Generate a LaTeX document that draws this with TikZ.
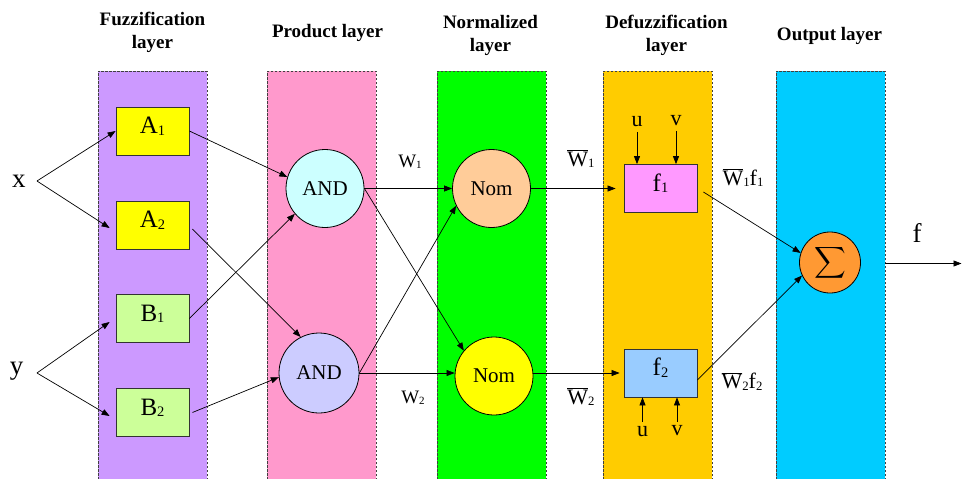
\documentclass[tikz,border=0pt]{standalone}
\usepackage{fontspec}
\setmainfont{Liberation Serif}
\usepackage{graphicx}
\usetikzlibrary{arrows.meta}
\definecolor{fuzz}{HTML}{CC99FF}
\definecolor{prod}{HTML}{FF99CC}
\definecolor{norm}{HTML}{00FF00}
\definecolor{defz}{HTML}{FFCC00}
\definecolor{outc}{HTML}{00CCFF}
\definecolor{yel}{HTML}{FFFF00}
\definecolor{lgreen}{HTML}{CCFF99}
\definecolor{andA}{HTML}{CCFFFF}
\definecolor{andB}{HTML}{CCCCFF}
\definecolor{nomA}{HTML}{FFCC99}
\definecolor{fA}{HTML}{FF99FF}
\definecolor{fB}{HTML}{99CCFF}
\definecolor{sig}{HTML}{FF9933}
\newcommand\sbs[1]{\raisebox{-1.5pt}{\scalebox{0.58}{#1}}}
\newcommand\wb{$\overline{\mbox{W}}$}
\begin{document}
\begin{tikzpicture}[x=1pt,y=-1pt,
  layerbox/.style={draw=black!75, dash pattern=on 2.5pt off 1.5pt, line width=0.8pt, inner sep=0pt, minimum width=109pt, minimum height=420pt, anchor=north west},
  hdr/.style={font=\bfseries\fontsize{19}{23}\selectfont, align=center, inner sep=0pt},
  fbox/.style={draw=black!80, line width=0.8pt, minimum width=73pt, minimum height=48pt, inner sep=0pt, text height=16pt, text depth=11pt, font=\fontsize{25}{28}\selectfont},
  circ/.style={circle, draw=black, line width=0.8pt, inner sep=0pt, font=\fontsize{21}{24}\selectfont},
  lbl/.style={inner sep=0pt, font=\fontsize{22}{24}\selectfont},
  wlbl/.style={inner sep=0pt, font=\fontsize{19}{22}\selectfont},
  io/.style={inner sep=0pt, font=\fontsize{27}{30}\selectfont},
  arr/.style={draw=black, line width=0.7pt, -{Triangle[length=8pt,width=6pt]}}
]
\useasboundingbox (0,0) rectangle (962,479);
\clip (0,0) rectangle (962,479);

% layer columns
\node[layerbox, fill=fuzz] (col1) at (97.5,71) {};
\node[layerbox, fill=prod] (col2) at (267,71) {};
\node[layerbox, fill=norm] (col3) at (437,71) {};
\node[layerbox, fill=defz] (col4) at (603,71) {};
\node[layerbox, fill=outc] (col5) at (775.5,71) {};

% headers
\node[hdr] (h1) at (152.5,32.5) {Fuzzification\\layer};
\node[hdr] (h2) at (327.5,33) {Product layer};
\node[hdr] (h3) at (490.5,35.5) {Normalized\\layer};
\node[hdr] (h4) at (666.5,35.5) {Defuzzification\\layer};
\node[hdr] (h5) at (829.5,36) {Output layer};

% inputs
\node[io] (x) at (19,181) {x};
\node[io] (y) at (16.5,371) {y};

% fuzzification
\node[fbox, fill=yel] (A1) at (152.5,131) {A\sbs{1}};
\node[fbox, fill=yel] (A2) at (152.5,225) {A\sbs{2}};
\node[fbox, fill=lgreen] (B1) at (152.5,318.5) {B\sbs{1}};
\node[fbox, fill=lgreen] (B2) at (152.5,412.5) {B\sbs{2}};

% product
\node[circ, fill=andA, minimum size=78pt] (AND1) at (325,188.5) {AND};
\node[circ, fill=andB, minimum size=80pt] (AND2) at (319,373) {AND};

% normalized
\node[circ, fill=nomA, minimum size=78pt] (N1) at (491.5,188.5) {Nom};
\node[circ, fill=yel, minimum size=78pt] (N2) at (494,376) {Nom};

% defuzzification
\node[fbox, fill=fA] (F1) at (660.5,188.5) {f\sbs{1}};
\node[fbox, fill=fB] (F2) at (660.5,373) {f\sbs{2}};
\node[lbl] (u1) at (637,121.5) {u};
\node[lbl] (v1) at (676,120.5) {v};
\node[lbl] (u2) at (642.5,431.5) {u};
\node[lbl] (v2) at (677,431) {v};

% output
\node[circ, fill=sig, minimum size=61pt] (S) at (830,262.5) {\scalebox{2.2}{$\displaystyle\sum$}};
\node[io] (f) at (917,232.5) {f};
\coordinate (fout) at (961.5,263.5);

% weight labels
\node[wlbl] (w1) at (410,162) {W\sbs{1}};
\node[wlbl] (w2) at (413,398) {W\sbs{2}};
\node[lbl] (wb1) at (581,159) {\wb\sbs{1}};
\node[lbl] (wb2) at (581,397) {\wb\sbs{2}};
\node[lbl] (wf1) at (743,178) {\wb\sbs{1}f\sbs{1}};
\node[lbl] (wf2) at (742,381.5) {\wb\sbs{2}f\sbs{2}};

% connectors
\draw[arr] ([xshift=11pt]x.east) -- (A1.west);
\draw[arr] ([xshift=11pt]x.east) -- ([xshift=-6pt,yshift=-3pt]A2.west);
\draw[arr] ([xshift=13.5pt,yshift=-2pt]y.east) -- ([xshift=-6pt,yshift=-3.5pt]B1.west);
\draw[arr] ([xshift=13.5pt,yshift=-2pt]y.east) -- ([xshift=-6pt,yshift=-3.5pt]B2.west);

\draw[arr] (A1.east) -- (AND1.163);
\draw[arr] ([xshift=3pt,yshift=-4pt]A2.east) -- (AND2.117);
\draw[arr] (B1.east) -- (AND1.220);
\draw[arr] ([xshift=3pt]B2.east) -- (AND2.186);

\draw[arr] (AND1.east) -- (N1.west);
\draw[arr] (AND1.east) -- (N2.140);
\draw[arr] (AND2.east) -- (N1.206);
\draw[arr] (AND2.east) -- (AND2.east -| N2.west);

\draw[arr] (N1.east) -- ([xshift=-8pt]F1.west);
\draw[arr] (N2.east |- F2.west) -- ([xshift=-4pt]F2.west);

\draw[arr] ([yshift=-5pt]u1.south) -- (u1.south |- F1.north);
\draw[arr] ([yshift=-5pt]v1.south) -- (v1.south |- F1.north);
\draw[arr] ([yshift=4pt]u2.north) -- (u2.north |- F2.south);
\draw[arr] ([yshift=4pt]v2.north) -- (v2.north |- F2.south);

\draw[arr] ([xshift=6pt,yshift=-3.5pt]F1.east) -- (S.162);
\draw[arr] ([yshift=-7pt]F2.east) -- (S.205);
\draw[arr] (col5.east |- fout) -- (fout);
\end{tikzpicture}
\end{document}
